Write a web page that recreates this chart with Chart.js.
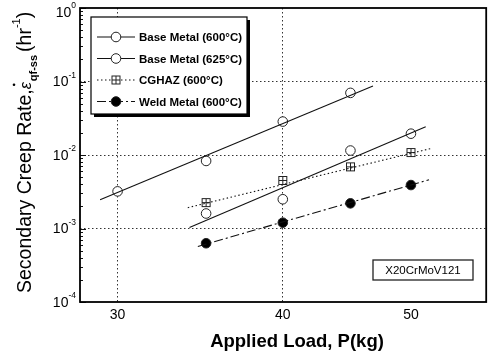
<!DOCTYPE html>
<html>
<head>
<meta charset="utf-8">
<script src="https://cdn.jsdelivr.net/npm/chart.js@4.4.1/dist/chart.umd.min.js"></script>
<style>
  html, body { margin: 0; padding: 0; background: #fff; }
  #wrap { width: 492px; height: 357px; }
</style>
</head>
<body>
<div id="wrap"><canvas id="creepChart" width="492" height="357"></canvas></div>
<script>
// ------------------- Data -------------------
const base600Load = [30, 35, 40, 45];
const base600Rate = [3.2e-3, 8.3e-3, 2.85e-2, 7.0e-2];
const base625Load = [35, 40, 45, 50];
const base625Rate = [1.6e-3, 2.5e-3, 1.15e-2, 1.95e-2];
const cghazLoad = [35, 40, 45, 50];
const cghazRate = [2.25e-3, 4.5e-3, 6.9e-3, 1.08e-2];
const weldLoad = [35, 40, 45, 50];
const weldRate = [6.3e-4, 1.2e-3, 2.2e-3, 3.9e-3];

// fitted lines, end points as drawn
const base600FitLoad = [29.1, 46.8];
const base600FitRate = [2.46e-3, 8.7e-2];
const base625FitLoad = [34.0, 51.3];
const base625FitRate = [1.03e-3, 2.43e-2];
const cghazFitLoad = [33.9, 51.9];
const cghazFitRate = [1.92e-3, 1.24e-2];
const weldFitLoad = [34.5, 51.6];
const weldFitRate = [5.7e-4, 4.6e-3];

const xTicks = [30, 40, 50];
const yTicks = [1e-4, 1e-3, 1e-2, 1e-1, 1];
const yTickExp = ['-4', '-3', '-2', '-1', '0'];

const legendLabels = ['Base Metal (600°C)', 'Base Metal (625°C)', 'CGHAZ (600°C)', 'Weld Metal (600°C)'];
const noteText = 'X20CrMoV121';

// ------------------- Helpers -------------------
const pts = (xs, ys) => xs.map((x, i) => ({ x: x, y: ys[i] }));

// boxed plus marker for CGHAZ
function makeBoxPlus() {
    const c = document.createElement('canvas');
    c.width = 11; c.height = 11;
    const g = c.getContext('2d');
    g.fillStyle = '#fff';
    g.fillRect(1, 1, 9, 9);
    g.strokeStyle = '#222';
    g.lineWidth = 1;
    g.strokeRect(1.5, 1.5, 8, 8);
    g.beginPath();
    g.moveTo(5.5, 1.5); g.lineTo(5.5, 9.5);
    g.moveTo(1.5, 5.5); g.lineTo(9.5, 5.5);
    g.stroke();
    return c;
}
const boxPlus = makeBoxPlus();

const lineDash = {
    solid: [],
    dotted: [1.5, 2.5],
    dashDot: [9, 3, 2, 3]
};

function fitSet(xs, ys, dash) {
    return {
        data: pts(xs, ys), showLine: true, pointRadius: 0,
        borderColor: '#111', borderWidth: 1.1, borderDash: dash, fill: false
    };
}

function markerSet(xs, ys, style) {
    return {
        data: pts(xs, ys), showLine: false,
        pointStyle: style.pointStyle || 'circle',
        pointRadius: style.radius || 4.8,
        pointBackgroundColor: style.fill,
        pointBorderColor: '#222', pointBorderWidth: 1
    };
}

const seriesStyles = [
    { fill: '#fff', dash: lineDash.solid },
    { fill: '#fff', dash: lineDash.solid },
    { fill: '#fff', dash: lineDash.dotted, pointStyle: boxPlus },
    { fill: '#000', dash: lineDash.dashDot }
];

const FONT = '"Liberation Sans", Arial, sans-serif';

// ------------------- Plugins -------------------
const frameAndLabels = {
    id: 'frameAndLabels',
    afterDraw(chart) {
        const ctx = chart.ctx;
        const a = chart.chartArea;
        const ys = chart.scales.y;
        ctx.save();

        // minor + major ticks on the left axis (inside)
        ctx.strokeStyle = '#111';
        ctx.lineWidth = 1;
        for (let e = -4; e < 0; e++) {
            for (let m = 2; m <= 9; m++) {
                const py = Math.round(ys.getPixelForValue(m * Math.pow(10, e))) + 0.5;
                ctx.beginPath(); ctx.moveTo(a.left, py); ctx.lineTo(a.left + 3, py); ctx.stroke();
            }
        }
        yTicks.forEach(v => {
            const py = Math.round(ys.getPixelForValue(v)) + 0.5;
            ctx.beginPath(); ctx.moveTo(a.left, py); ctx.lineTo(a.left + 6, py); ctx.stroke();
        });

        // frame
        ctx.lineWidth = 1.8;
        ctx.strokeStyle = '#000';
        ctx.strokeRect(a.left, a.top, a.right - a.left, a.bottom - a.top);

        // y tick labels 10^n
        ctx.fillStyle = '#000';
        ctx.textBaseline = 'middle';
        yTicks.forEach((v, i) => {
            const py = Math.max(ys.getPixelForValue(v), 12);
            ctx.font = '8.5px ' + FONT;
            ctx.textAlign = 'left';
            const ew = ctx.measureText(yTickExp[i]).width;
            const expX = 76 - ew;
            ctx.fillText(yTickExp[i], expX, py - 6);
            ctx.font = '14px ' + FONT;
            ctx.textAlign = 'right';
            ctx.fillText('10', expX, py + 1);
        });

        // legend box with shadow
        const lx = 91, ly = 17, lw = 156, lh = 97;
        ctx.fillStyle = '#000';
        ctx.fillRect(lx + 3, ly + 3, lw, lh);
        ctx.fillStyle = '#fff';
        ctx.fillRect(lx, ly, lw, lh);
        ctx.lineWidth = 1.2;
        ctx.strokeStyle = '#000';
        ctx.strokeRect(lx, ly, lw, lh);
        legendLabels.forEach((label, i) => {
            const st = seriesStyles[i];
            const ry = ly + 20 + i * 21.5;
            ctx.save();
            ctx.strokeStyle = '#111';
            ctx.lineWidth = 1.1;
            ctx.setLineDash(st.dash);
            ctx.beginPath(); ctx.moveTo(lx + 6, ry); ctx.lineTo(lx + 44, ry); ctx.stroke();
            ctx.restore();
            if (st.pointStyle) {
                ctx.drawImage(st.pointStyle, lx + 25 - 5.5, ry - 5.5);
            } else {
                ctx.beginPath();
                ctx.arc(lx + 25, ry, 4.8, 0, Math.PI * 2);
                ctx.fillStyle = st.fill;
                ctx.fill();
                ctx.strokeStyle = '#222';
                ctx.lineWidth = 1;
                ctx.stroke();
            }
            ctx.fillStyle = '#000';
            ctx.font = 'bold 11.5px ' + FONT;
            ctx.textAlign = 'left';
            ctx.fillText(label, lx + 48, ry + 1);
        });

        // material note box
        ctx.fillStyle = '#fff';
        ctx.fillRect(373, 260, 100, 20);
        ctx.lineWidth = 1.3;
        ctx.strokeRect(373, 260, 100, 20);
        ctx.fillStyle = '#000';
        ctx.font = '11.5px ' + FONT;
        ctx.textAlign = 'center';
        ctx.fillText(noteText, 423, 271);

        // x axis title
        ctx.font = 'bold 18.5px ' + FONT;
        ctx.fillText('Applied Load, P(kg)', 297, 342);

        // y axis title (rotated), with dotted epsilon, subscript and superscript
        ctx.translate(25, 293);
        ctx.rotate(-Math.PI / 2);
        ctx.textAlign = 'left';
        ctx.textBaseline = 'alphabetic';
        let cx = 0;
        ctx.font = '19.5px ' + FONT;
        const main = 'Secondary Creep Rate,';
        ctx.fillText(main, cx, 6);
        cx += ctx.measureText(main).width;
        ctx.font = 'italic 16px ' + FONT;
        ctx.fillText('ε', cx, 6);
        const epsW = ctx.measureText('ε').width;
        ctx.beginPath();
        ctx.arc(cx + epsW / 2 + 1, -11, 1.3, 0, Math.PI * 2);
        ctx.fill();
        cx += epsW + 1;
        ctx.font = 'bold 11px ' + FONT;
        ctx.fillText('qf-ss', cx, 12);
        cx += ctx.measureText('qf-ss').width + 3;
        ctx.font = '19.5px ' + FONT;
        ctx.fillText('(hr', cx, 6);
        cx += ctx.measureText('(hr').width;
        ctx.font = '11px ' + FONT;
        ctx.fillText('-1', cx, -5);
        cx += ctx.measureText('-1').width;
        ctx.font = '19.5px ' + FONT;
        ctx.fillText(')', cx, 6);

        ctx.restore();
    }
};

// ------------------- Chart -------------------
const datasets = [
    fitSet(base600FitLoad, base600FitRate, lineDash.solid),
    fitSet(base625FitLoad, base625FitRate, lineDash.solid),
    fitSet(cghazFitLoad, cghazFitRate, lineDash.dotted),
    fitSet(weldFitLoad, weldFitRate, lineDash.dashDot),
    markerSet(base600Load, base600Rate, seriesStyles[0]),
    markerSet(base625Load, base625Rate, seriesStyles[1]),
    markerSet(cghazLoad, cghazRate, seriesStyles[2]),
    markerSet(weldLoad, weldRate, seriesStyles[3])
];

new Chart(document.getElementById('creepChart').getContext('2d'), {
    type: 'scatter',
    data: { datasets: datasets },
    options: {
        responsive: false,
        animation: false,
        layout: { padding: { top: 8, right: 4, left: 0, bottom: 0 } },
        plugins: { legend: { display: false }, tooltip: { enabled: false } },
        scales: {
            x: {
                type: 'logarithmic',
                min: 28.1,
                max: 57,
                afterBuildTicks: s => { s.ticks = xTicks.map(v => ({ value: v })); },
                afterFit: s => { s.height = 55; },
                ticks: {
                    color: '#000',
                    padding: 5,
                    font: { family: FONT, size: 14 },
                    callback: v => String(v)
                },
                grid: {
                    drawTicks: false,
                    color: ctx => (ctx.tick && (ctx.tick.value === 30 || ctx.tick.value === 40)) ? '#333' : 'rgba(0,0,0,0)',
                    lineWidth: 1
                },
                border: { display: false, dash: [1.5, 2.5] }
            },
            y: {
                type: 'logarithmic',
                min: 1e-4,
                max: 1,
                afterBuildTicks: s => { s.ticks = yTicks.map(v => ({ value: v })); },
                afterFit: s => { s.width = 80; },
                ticks: { display: false },
                grid: {
                    drawTicks: false,
                    color: ctx => (ctx.tick && ctx.tick.value > 1e-4 && ctx.tick.value < 1) ? '#333' : 'rgba(0,0,0,0)',
                    lineWidth: 1
                },
                border: { display: false, dash: [1.5, 2.5] }
            }
        }
    },
    plugins: [frameAndLabels]
});
</script>
</body>
</html>
